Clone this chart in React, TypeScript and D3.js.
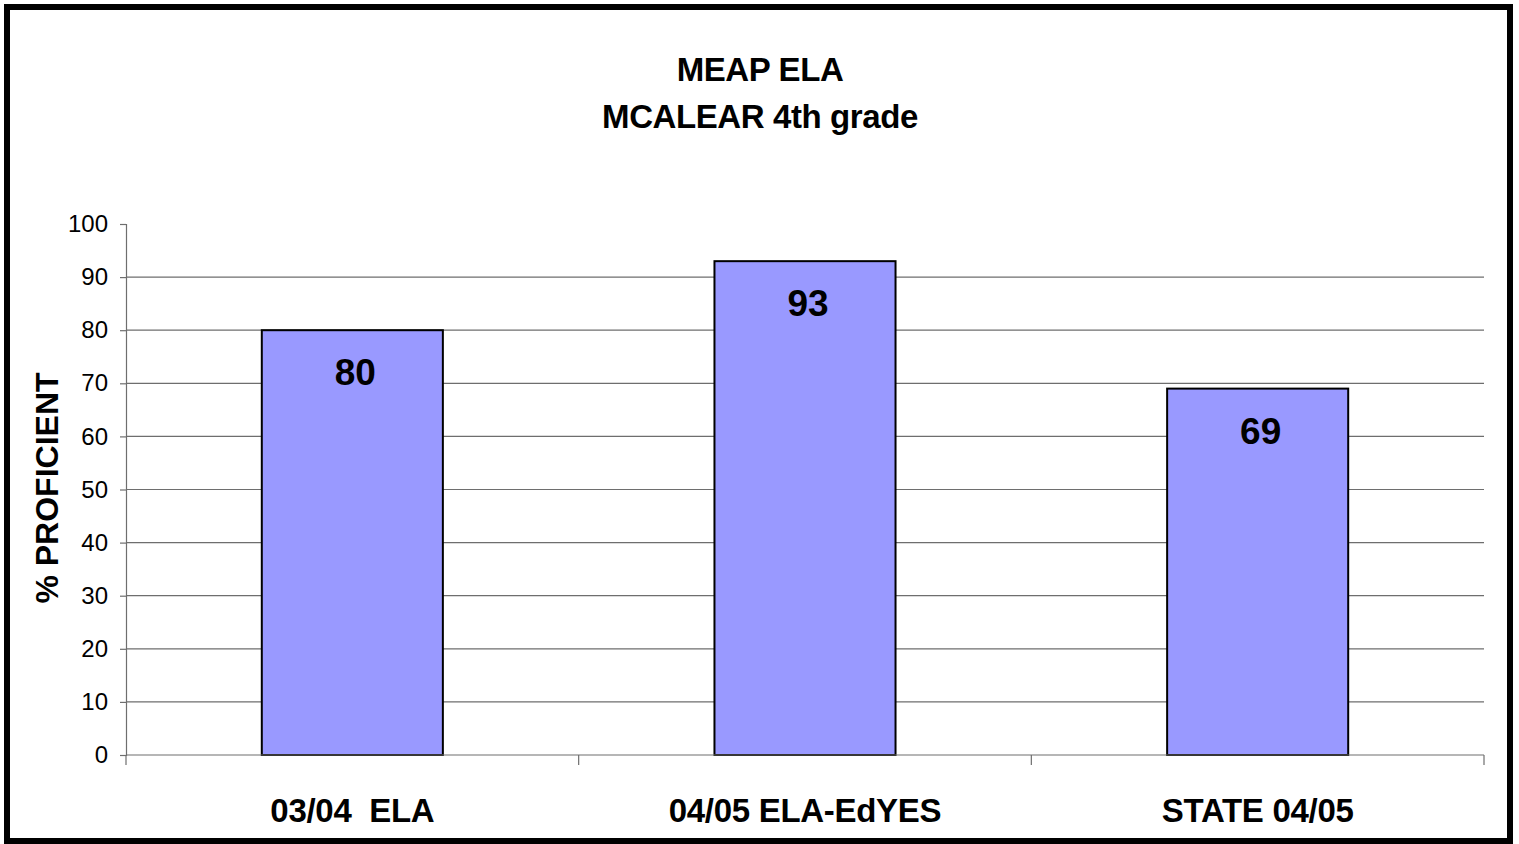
import { useRef, useEffect } from 'react';
import * as d3 from 'd3';

const categories = ['03/04  ELA', '04/05 ELA-EdYES', 'STATE 04/05'];
const proficient = [80, 93, 69];
const yTicks = [0, 10, 20, 30, 40, 50, 60, 70, 80, 90, 100];
const titleLines = ['MEAP ELA', 'MCALEAR 4th grade'];

export default function App() {
  const ref = useRef<SVGSVGElement>(null);

  useEffect(() => {
    if (!ref.current) return;

    const width = 1519;
    const height = 844;
    const margin = { top: 224, right: 35, bottom: 89, left: 126 };
    const font = 'Arial, "Liberation Sans", sans-serif';

    const data = categories.map((c, i) => ({ cat: c, value: proficient[i] }));

    const svg = d3.select(ref.current);
    svg.selectAll('*').remove();
    svg.attr('width', width).attr('height', height);

    svg
      .append('rect')
      .attr('width', width)
      .attr('height', height)
      .attr('fill', '#fff');

    const x = d3
      .scaleBand()
      .domain(categories)
      .range([margin.left, width - margin.right])
      .paddingInner(0.6)
      .paddingOuter(0.3);

    // ticks sit on the category boundaries
    const step = (width - margin.right - margin.left) / categories.length;

    const y = d3
      .scaleLinear()
      .domain([0, 100])
      .range([height - margin.bottom, margin.top]);

    // gridlines
    svg
      .append('g')
      .selectAll('line')
      .data(yTicks.filter((t) => t > 0 && t < 100))
      .join('line')
      .attr('x1', margin.left)
      .attr('x2', width - margin.right)
      .attr('y1', (d) => y(d))
      .attr('y2', (d) => y(d))
      .attr('stroke', '#6e6e6e')
      .attr('stroke-width', 1.2);

    // y axis
    const yAxis = svg
      .append('g')
      .attr('transform', `translate(${margin.left},0)`)
      .call(d3.axisLeft(y).tickValues(yTicks).tickSize(6).tickPadding(12));
    yAxis.select('.domain').attr('stroke', '#6e6e6e').attr('stroke-width', 1.2);
    yAxis.selectAll('.tick line').attr('stroke', '#6e6e6e').attr('stroke-width', 1.2);
    yAxis
      .selectAll('.tick text')
      .attr('font-family', font)
      .attr('font-size', 24)
      .attr('fill', '#000');

    // bars
    svg
      .append('g')
      .selectAll('rect')
      .data(data)
      .join('rect')
      .attr('x', (d) => x(d.cat) || 0)
      .attr('y', (d) => y(d.value))
      .attr('width', x.bandwidth())
      .attr('height', (d) => y(0) - y(d.value))
      .attr('fill', '#9999ff')
      .attr('stroke', '#000')
      .attr('stroke-width', 2);

    // x axis
    const xg = svg.append('g');
    xg.append('line')
      .attr('x1', margin.left)
      .attr('x2', width - margin.right)
      .attr('y1', y(0))
      .attr('y2', y(0))
      .attr('stroke', '#6e6e6e')
      .attr('stroke-width', 1.2);
    xg.selectAll('line.tk')
      .data(d3.range(categories.length + 1))
      .join('line')
      .attr('class', 'tk')
      .attr('x1', (i) => margin.left + i * step)
      .attr('x2', (i) => margin.left + i * step)
      .attr('y1', y(0))
      .attr('y2', y(0) + 10)
      .attr('stroke', '#6e6e6e')
      .attr('stroke-width', 1.2);

    svg
      .append('g')
      .selectAll('text')
      .data(categories)
      .join('text')
      .attr('x', (d) => (x(d) || 0) + x.bandwidth() / 2)
      .attr('y', 822)
      .attr('text-anchor', 'middle')
      .attr('font-family', font)
      .attr('font-weight', 'bold')
      .attr('font-size', 33)
      .attr('letter-spacing', -0.3)
      .style('white-space', 'pre')
      .text((d) => d);

    // value labels
    svg
      .append('g')
      .selectAll('text')
      .data(data)
      .join('text')
      .attr('x', (d) => (x(d.cat) || 0) + x.bandwidth() / 2 + 3)
      .attr('y', (d) => y(d.value) + 55)
      .attr('text-anchor', 'middle')
      .attr('font-family', font)
      .attr('font-weight', 'bold')
      .attr('font-size', 37)
      .text((d) => d.value);

    // title
    svg
      .append('g')
      .selectAll('text')
      .data(titleLines)
      .join('text')
      .attr('x', 760)
      .attr('y', (_, i) => 81 + i * 47)
      .attr('text-anchor', 'middle')
      .attr('font-family', font)
      .attr('font-weight', 'bold')
      .attr('font-size', 33)
      .attr('letter-spacing', -0.4)
      .text((d) => d);

    // y title
    svg
      .append('text')
      .attr('transform', `translate(58,${488}) rotate(-90)`)
      .attr('text-anchor', 'middle')
      .attr('font-family', font)
      .attr('font-weight', 'bold')
      .attr('font-size', 32)
      .text('% PROFICIENT');

    // frame
    svg
      .append('rect')
      .attr('x', 7)
      .attr('y', 7)
      .attr('width', 1503)
      .attr('height', 834)
      .attr('fill', 'none')
      .attr('stroke', '#000')
      .attr('stroke-width', 6);
  }, []);

  return (
    <div style={{ position: 'absolute', left: 0, top: 0 }}>
      <svg ref={ref} style={{ display: 'block' }}></svg>
    </div>
  );
}
